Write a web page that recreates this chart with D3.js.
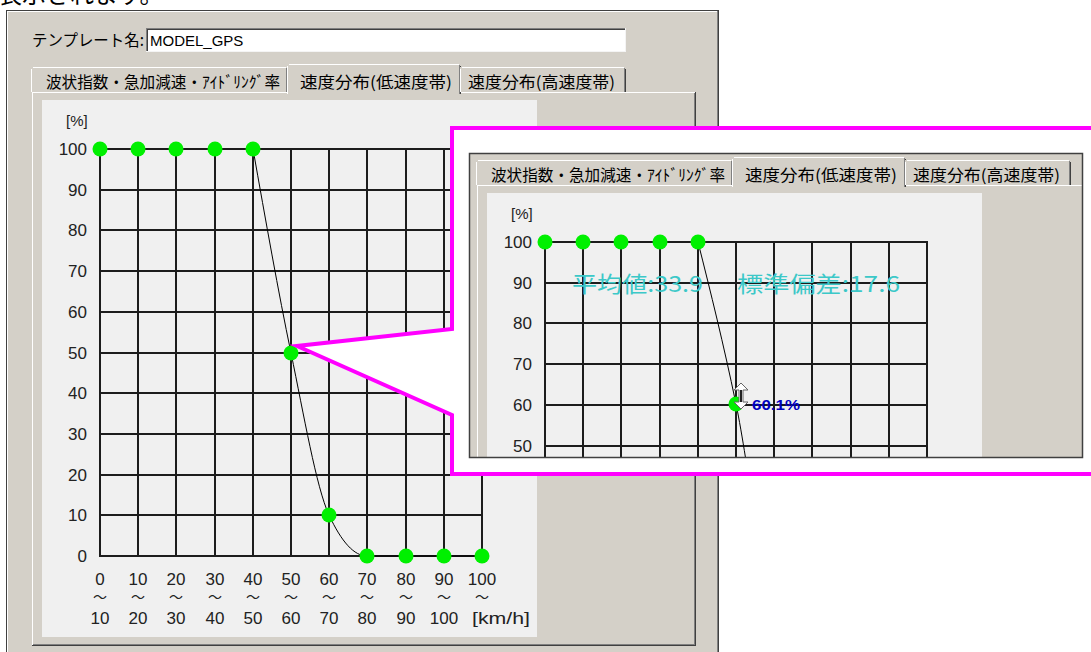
<!DOCTYPE html>
<html>
<head>
<meta charset="utf-8">
<script src="https://cdn.jsdelivr.net/npm/d3@7"></script>
<style>
  body { margin: 0; background: #fff; }
  svg { display: block; }
</style>
</head>
<body>
<div id="canvas"></div>
<script>
// speed bins [km/h] and share of trips [%]
const speeds = [0, 10, 20, 30, 40, 50, 60, 70, 80, 90, 100];
const binFrom = ["0", "10", "20", "30", "40", "50", "60", "70", "80", "90", "100"];
const binTo = ["10", "20", "30", "40", "50", "60", "70", "80", "90", "100"];
const shareTicks = [0, 10, 20, 30, 40, 50, 60, 70, 80, 90, 100];
const shareSaved = [100, 100, 100, 100, 100, 50, 10, 0, 0, 0, 0];
const shareEditing = [100, 100, 100, 100, 100, 60.1, 10, 0, 0, 0, 0];
const editIndex = 5;
const tabNames = ["波状指数・急加減速・ｱｲﾄﾞﾘﾝｸﾞ率", "速度分布(低速度帯)", "速度分布(高速度帯)"];
const templateName = "MODEL_GPS";
const statNames = ["平均値", "標準偏差"];
const statValues = [33.9, 17.6];

const W = 1091, H = 652;
const BG = "#d4d0c8";
const JP = "'Noto Sans CJK JP', sans-serif";
const NUM = "'Liberation Sans', Arial, sans-serif";

const svg = d3.select("#canvas").append("svg")
  .attr("width", W)
  .attr("height", H);

const defs = svg.append("defs");
defs.append("clipPath").attr("id", "zoomClip")
  .append("rect").attr("x", 470).attr("y", 154).attr("width", 612).attr("height", 303);

const x = d3.scaleLinear().domain([0, 100]).rangeRound([100, 482]);
const y = d3.scaleLinear().domain([0, 100]).rangeRound([556, 149]);

const hline = (g, x1, x2, yy, c, w) => g.append("line")
  .attr("x1", x1).attr("x2", x2).attr("y1", yy).attr("y2", yy)
  .attr("stroke", c).attr("stroke-width", w || 1);
const vline = (g, xx, y1, y2, c, w) => g.append("line")
  .attr("x1", xx).attr("x2", xx).attr("y1", y1).attr("y2", y2)
  .attr("stroke", c).attr("stroke-width", w || 1);

// editing = the zoomed copy: only the part that shows through the callout gets texts
const drawDialog = (g, values, editing) => {
  // window frame
  g.append("rect").attr("x", 6).attr("y", 10).attr("width", 713).attr("height", 660).attr("fill", BG);
  hline(g, 6, 719, 10.5, "#404040");
  vline(g, 6.5, 10, 670, "#404040");
  vline(g, 718.5, 10, 670, "#404040");
  hline(g, 7, 718, 11.5, "#fff");
  vline(g, 7.5, 11, 670, "#fff");
  vline(g, 717.5, 11, 670, "#808080");

  // template name
  if (!editing) {
    g.append("text").attr("x", 32).attr("y", 46)
      .attr("font-family", JP).attr("font-size", 16).attr("fill", "#000")
      .attr("textLength", 112).attr("lengthAdjust", "spacingAndGlyphs")
      .text("テンプレート名:");
    g.append("rect").attr("x", 146).attr("y", 28).attr("width", 480).attr("height", 24).attr("fill", "#fff");
    hline(g, 146, 626, 28.5, "#808080");
    vline(g, 146.5, 28, 52, "#808080");
    hline(g, 147, 625, 29.5, "#404040");
    vline(g, 147.5, 29, 51, "#404040");
    hline(g, 146, 626, 51.5, "#f4f4f4");
    vline(g, 625.5, 28, 52, "#f4f4f4");
    g.append("text").attr("x", 150).attr("y", 46)
      .attr("font-family", NUM).attr("font-size", 15).attr("fill", "#000")
      .text(templateName);
  }

  // tab panel
  g.append("rect").attr("x", 32).attr("y", 92).attr("width", 664).attr("height", 554).attr("fill", BG);
  hline(g, 32, 696, 92.5, "#fff");
  vline(g, 32.5, 92, 646, "#fff");
  vline(g, 695.5, 92, 646, "#404040");
  vline(g, 694.5, 93, 645, "#808080");
  hline(g, 32, 696, 645.5, "#404040");
  hline(g, 33, 695, 644.5, "#808080");

  // tabs
  const edges = [31, 289, 460, 627];
  const textBox = [[46, 234], [300, 152], [468, 147]];
  tabNames.forEach((name, i) => {
    const sel = i === 1;
    const x0 = edges[i] - (sel ? 2 : 0);
    const x1 = edges[i + 1] + (sel ? 1 : -1);
    const top = sel ? 64 : 67;
    const bottom = sel ? 94 : 92;
    g.append("rect").attr("x", x0).attr("y", top).attr("width", x1 - x0).attr("height", bottom - top).attr("fill", BG);
    hline(g, x0 + 2, x1 - 2, top + 0.5, "#fff");
    vline(g, x0 + 0.5, top + 2, bottom, "#fff");
    vline(g, x1 - 0.5, top + 2, bottom, "#404040");
    vline(g, x1 - 1.5, top + 1, bottom, "#808080");
    g.append("text").attr("x", textBox[i][0]).attr("y", 88)
      .attr("font-family", JP).attr("font-size", 16).attr("fill", "#000")
      .attr("textLength", textBox[i][1]).attr("lengthAdjust", "spacingAndGlyphs")
      .text(name);
  });

  // chart area
  g.append("rect").attr("x", 42).attr("y", 100).attr("width", 495).attr("height", 537).attr("fill", "#f0f0f0");

  const grid = g.append("g").attr("stroke", "#1c1c1c").attr("stroke-width", 2);
  grid.selectAll("line.h").data(shareTicks).join("line").attr("class", "h")
    .attr("x1", x(0) - 1).attr("x2", x(100) + 1)
    .attr("y1", d => y(d)).attr("y2", d => y(d));
  grid.selectAll("line.v").data(speeds).join("line").attr("class", "v")
    .attr("x1", d => x(d)).attr("x2", d => x(d))
    .attr("y1", y(100)).attr("y2", y(0));

  const yl = g.append("g").attr("font-family", NUM).attr("font-size", 17).attr("fill", "#222")
    .attr("text-anchor", "end");
  yl.selectAll("text").data(editing ? shareTicks.filter(t => t >= 50) : shareTicks).join("text")
    .attr("x", 87).attr("y", d => y(d) + 6)
    .text(d => d);
  g.append("text").attr("x", 66).attr("y", 126)
    .attr("font-family", NUM).attr("font-size", 15).attr("fill", "#222")
    .text("[%]");

  if (!editing) {
    const xl = g.append("g").attr("font-family", NUM).attr("font-size", 17).attr("fill", "#222")
      .attr("text-anchor", "middle");
    xl.selectAll("text.from").data(binFrom).join("text").attr("class", "from")
      .attr("x", (d, i) => x(speeds[i])).attr("y", 585).text(d => d);
    xl.selectAll("text.wave").data(binFrom).join("text").attr("class", "wave")
      .attr("x", (d, i) => x(speeds[i])).attr("y", 602)
      .attr("font-family", JP).attr("font-size", 14).text("～");
    xl.selectAll("text.to").data(binTo).join("text").attr("class", "to")
      .attr("x", (d, i) => x(speeds[i])).attr("y", 624).text(d => d);
    g.append("text").attr("x", 472).attr("y", 624)
      .attr("font-family", NUM).attr("font-size", 17).attr("fill", "#222")
      .attr("textLength", 58).attr("lengthAdjust", "spacingAndGlyphs")
      .text("[km/h]");
  }

  // curve from the last full bin onward
  const pts = speeds.map((s, i) => ({ s: s, v: values[i] }));
  const start = d3.max(pts.map((p, i) => (p.v === 100 ? i : -1)));
  const line = d3.line().x(d => x(d.s)).y(d => y(d.v)).curve(d3.curveMonotoneX);
  g.append("path").datum(pts.slice(start))
    .attr("d", line).attr("fill", "none").attr("stroke", "#000").attr("stroke-width", 1);

  g.append("g").selectAll("circle").data(pts).join("circle")
    .attr("cx", d => x(d.s)).attr("cy", d => y(d.v)).attr("r", 7.5)
    .attr("fill", "#00f000");

  if (editing) {
    const p = pts[editIndex];
    const cx = x(p.s) + 5, cy = y(p.v) - 8;
    const arrow = [[0, -13], [7, -6], [2, -6], [2, 6], [7, 6], [0, 13], [-7, 6], [-2, 6], [-2, -6], [-7, -6]];
    g.append("path")
      .attr("d", d3.line()(arrow.map(a => [cx + a[0], cy + a[1]])) + "Z")
      .attr("fill", "#fff").attr("stroke", "#666").attr("stroke-width", 1);
    vline(g, cx, cy - 6, cy + 6, "#222", 2);
    g.append("text").attr("x", x(p.s) + 16).attr("y", y(p.v) + 6)
      .attr("font-family", NUM).attr("font-size", 15).attr("font-weight", "bold")
      .attr("fill", "#0000c0")
      .attr("textLength", 48).attr("lengthAdjust", "spacingAndGlyphs")
      .text(d3.format(".1f")(p.v) + "%");

    const statX = [127, 292], statLen = [131, 163];
    g.append("g").selectAll("text").data(statNames).join("text")
      .attr("x", (d, i) => statX[i]).attr("y", 199)
      .attr("font-family", JP).attr("font-size", 22).attr("fill", "#3cc8c8")
      .attr("textLength", (d, i) => statLen[i]).attr("lengthAdjust", "spacingAndGlyphs")
      .text((d, i) => d + ":" + statValues[i]);
  }
};

// text of the page above the dialog, cut off at the top
svg.append("text").attr("x", -2).attr("y", 3)
  .attr("font-family", JP).attr("font-size", 24).attr("fill", "#000")
  .text("表示されます。");

drawDialog(svg.append("g"), shareSaved, false);

// magenta callout
const callout = [[452, 128], [1095, 128], [1095, 474], [452, 474], [452, 415], [297, 346], [452, 329]];
svg.append("path")
  .attr("d", d3.line()(callout) + "Z")
  .attr("fill", "#fff").attr("stroke", "#ff00ff").attr("stroke-width", 4)
  .attr("stroke-linejoin", "miter");

const zoomed = svg.append("g").attr("clip-path", "url(#zoomClip)")
  .append("g").attr("transform", "translate(445,93)");
drawDialog(zoomed, shareEditing, true);
svg.append("rect").attr("x", 469.5).attr("y", 153.5).attr("width", 613).attr("height", 304)
  .attr("fill", "none").attr("stroke", "#404040").attr("stroke-width", 1.5);
</script>
</body>
</html>
